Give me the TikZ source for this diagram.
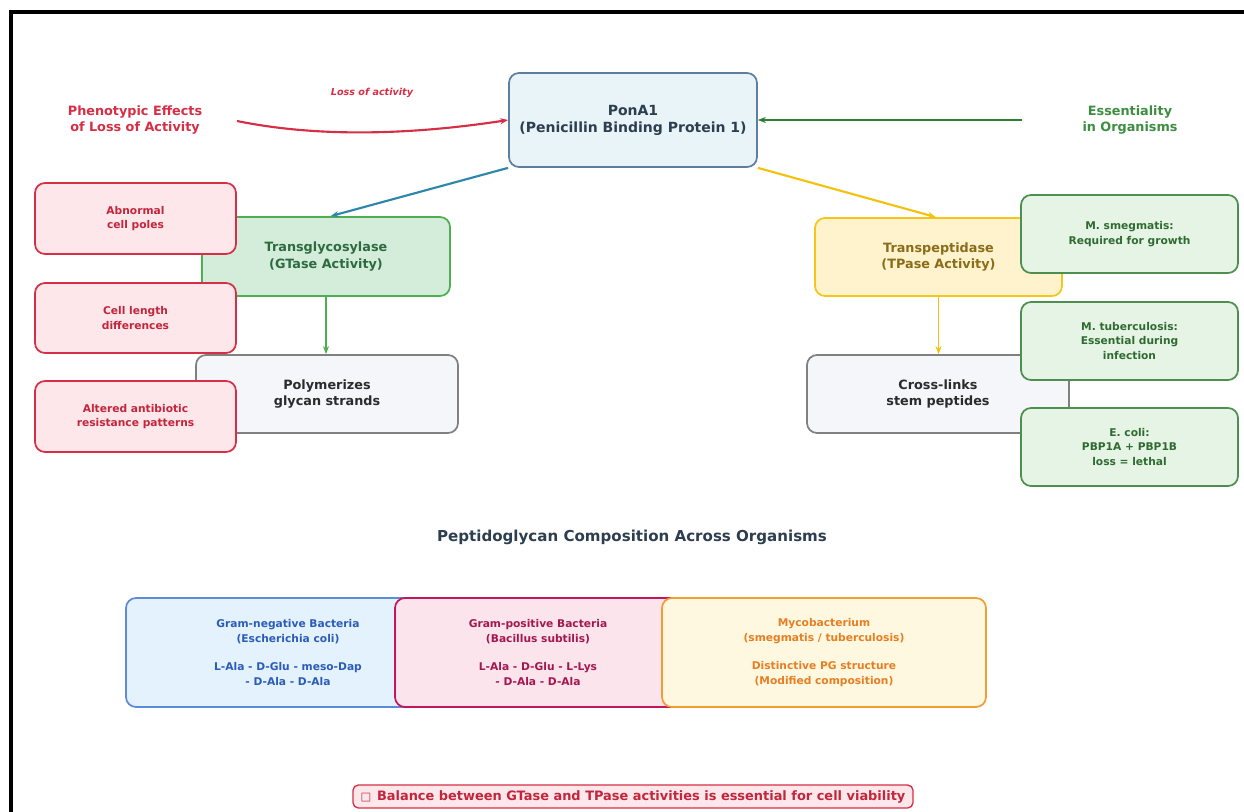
\documentclass[tikz,border=0pt]{standalone}
\usepackage{fontspec}
\setmainfont{DejaVu Sans}
\usetikzlibrary{arrows.meta}
\definecolor{cRed}{HTML}{D62F45}
\definecolor{cRedT}{HTML}{C2253C}
\definecolor{cRedF}{HTML}{FDE7EA}
\definecolor{cGrn}{HTML}{3E8E41}
\definecolor{cGrnT}{HTML}{2F6B31}
\definecolor{cGrnF}{HTML}{E5F4E4}
\definecolor{cGrnB}{HTML}{4E8F50}
\definecolor{cGtF}{HTML}{D4EDDA}
\definecolor{cGtB}{HTML}{4CAF50}
\definecolor{cGtT}{HTML}{2D6A3E}
\definecolor{cTpF}{HTML}{FFF3CD}
\definecolor{cTpB}{HTML}{F5C518}
\definecolor{cTpT}{HTML}{8A6D1A}
\definecolor{cPoF}{HTML}{E8F4F8}
\definecolor{cPoB}{HTML}{5D7F9E}
\definecolor{cNavy}{HTML}{2C3E50}
\definecolor{cPrF}{HTML}{F4F6F9}
\definecolor{cPrB}{HTML}{808080}
\definecolor{cPrT}{HTML}{2B2B2B}
\definecolor{cBlueA}{HTML}{2E86AB}
\definecolor{cYelA}{HTML}{F4C20D}
\definecolor{cGrnA}{HTML}{2E7D32}
\definecolor{cBF}{HTML}{E3F2FD}
\definecolor{cBB}{HTML}{5B8BD9}
\definecolor{cBT}{HTML}{2B5CB8}
\definecolor{cPF}{HTML}{FCE4EC}
\definecolor{cPB}{HTML}{C2185B}
\definecolor{cPT}{HTML}{A3174E}
\definecolor{cOF}{HTML}{FFF8E1}
\definecolor{cOB}{HTML}{F39C34}
\definecolor{cOT}{HTML}{E67E22}
\newcommand\myBig{\fontsize{10.5}{12.8}\selectfont\bfseries}
\newcommand\myMid{\fontsize{9.6}{12.2}\selectfont\bfseries}
\newcommand\mySmall{\fontsize{8}{10.8}\selectfont\bfseries}
\begin{document}
\begin{tikzpicture}[x=0.75pt,y=-0.75pt,
  box/.style={draw, rounded corners=7.5pt, line width=1.3pt, align=center, inner sep=0pt},
  sz/.style 2 args={minimum width={#1*0.75pt}, minimum height={#2*0.75pt}},
  lbl/.style={align=center, inner sep=0pt},
  arr/.style={line width=1.6pt, -{Stealth[length=6pt,width=4.5pt]}}]
\useasboundingbox (0,0) rectangle (1244,812);
\fill[white] (0,0) rectangle (1244,812);
\draw[line width=2.4pt] (11,812) -- (11,12) -- (1244,12);

% main boxes
\node[box, sz={248}{94}, fill=cPoF, draw=cPoB, text=cNavy, font=\myBig] (pona) at (633,120) {PonA1\\(Penicillin Binding Protein 1)};
\node[box, sz={248}{79}, fill=cGtF, draw=cGtB, text=cGtT, font=\myMid] (gtase) at (326,256.5) {Transglycosylase\\(GTase Activity)};
\node[box, sz={262}{78}, fill=cPrF, draw=cPrB, text=cPrT, font=\myMid] (poly) at (327,394) {Polymerizes\\glycan strands};
\node[box, sz={247}{78}, fill=cTpF, draw=cTpB, text=cTpT, font=\myMid] (tpase) at (938.5,257) {Transpeptidase\\(TPase Activity)};
\node[box, sz={262}{78}, fill=cPrF, draw=cPrB, text=cPrT, font=\myMid] (cross) at (938,394) {Cross-links\\stem peptides};

% side labels
\node[lbl, text=cRed, font=\myMid] (phen) at (135,120) {Phenotypic Effects\\of Loss of Activity};
\node[lbl, text=cGrn, font=\myMid] (ess) at (1130,120) {Essentiality\\in Organisms};
\node[lbl, text=cRed, font=\fontsize{7.2}{9}\selectfont\bfseries\itshape] (loss) at (372,93) {Loss of activity};

% connectors
\coordinate (rs) at (237,121);
\coordinate (gs) at (1022,120);
\draw[arr, cRed] (rs) .. controls (330,140) and (430,132) .. (pona.west);
\draw[arr, cGrnA] (gs) -- (pona.east);
\draw[arr, cBlueA] (pona.south west) -- ([xshift=3.5pt]gtase.north);
\draw[arr, cYelA] (pona.south east) -- ([xshift=-2pt]tpase.north);
\draw[arr, cGtB, line width=1.3pt] (gtase.south) -- (gtase.south |- poly.north);
\draw[arr, cYelA, line width=1.3pt] (tpase.south) -- (tpase.south |- cross.north);

% phenotype boxes
\node[box, sz={201}{71}, fill=cRedF, draw=cRed, text=cRedT, font=\mySmall] (ph1) at (135.5,218.5) {Abnormal\\cell poles};
\node[box, sz={201}{70}, fill=cRedF, draw=cRed, text=cRedT, font=\mySmall] (ph2) at (135.5,318) {Cell length\\differences};
\node[box, sz={201}{71}, fill=cRedF, draw=cRed, text=cRedT, font=\mySmall] (ph3) at (135.5,416.5) {Altered antibiotic\\resistance patterns};

% essentiality boxes
\node[box, sz={217}{78}, fill=cGrnF, draw=cGrnB, text=cGrnT, font=\mySmall] (es1) at (1129.5,234) {M. smegmatis:\\Required for growth};
\node[box, sz={217}{78}, fill=cGrnF, draw=cGrnB, text=cGrnT, font=\mySmall] (es2) at (1129.5,341) {M. tuberculosis:\\Essential during\\infection};
\node[box, sz={217}{78}, fill=cGrnF, draw=cGrnB, text=cGrnT, font=\mySmall] (es3) at (1129.5,447) {E. coli:\\PBP1A + PBP1B\\loss = lethal};

% title
\node[lbl, text=cNavy, font=\fontsize{11.3}{13.5}\selectfont\bfseries] (title) at (632,537) {Peptidoglycan Composition Across Organisms};

% composition boxes
\node[box, sz={324}{109}, fill=cBF, draw=cBB, text=cBT, font=\mySmall] (gneg) at (288,652.5) {Gram-negative Bacteria\\(Escherichia coli)\\[10.8pt]L-Ala - D-Glu - meso-Dap\\- D-Ala - D-Ala};
\node[box, sz={286}{109}, fill=cPF, draw=cPB, text=cPT, font=\mySmall] (gpos) at (538,652.5) {Gram-positive Bacteria\\(Bacillus subtilis)\\[10.8pt]L-Ala - D-Glu - L-Lys\\- D-Ala - D-Ala};
\node[box, sz={324}{109}, fill=cOF, draw=cOB, text=cOT, font=\mySmall] (myco) at (824,652.5) {Mycobacterium\\(smegmatis / tuberculosis)\\[10.8pt]Distinctive PG structure\\(Modified composition)};

% note
\node[box, rounded corners=4pt, line width=1pt, sz={560}{23}, fill=cRedF, draw=cRed, text=cRedT] (note) at (633,796.5) {\fontsize{8.5}{10}\selectfont\mdseries\char"25A1\enspace\fontsize{9.7}{11}\selectfont\bfseries Balance between GTase and TPase activities is essential for cell viability};
\end{tikzpicture}
\end{document}
